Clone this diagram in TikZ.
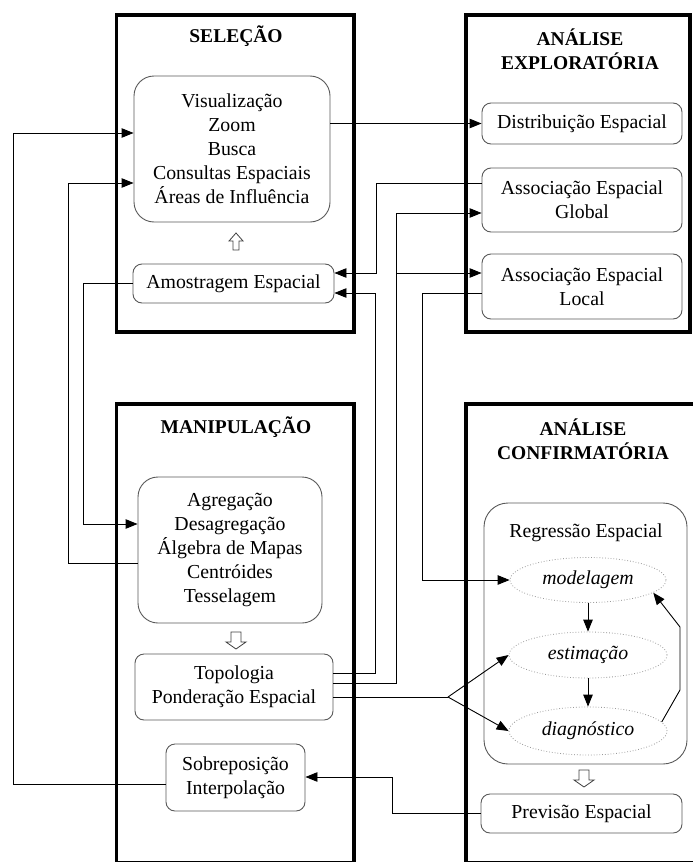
\documentclass[tikz,border=0pt]{standalone}
\usepackage{fontspec}
\setmainfont{Liberation Serif}
\usetikzlibrary{arrows.meta,shapes.geometric,calc}
\begin{document}
\begin{tikzpicture}[x=1pt,y=-1pt,
 frame/.style={line width=3.6pt},
 box/.style={draw=black!65, line width=0.9pt, rounded corners=9pt, align=center, inner sep=0pt, font=\fontsize{19.8}{24}\selectfont},
 bigbox/.style={box, rounded corners=20pt},
 ttl/.style={align=center, inner sep=0pt, font=\bfseries\fontsize{19.5}{23.5}\selectfont},
 ell/.style={ellipse, draw=black!40, dotted, line width=0.8pt, inner sep=0pt, font=\itshape\fontsize{19.8}{24}\selectfont},
 conn/.style={line width=0.9pt, -{Triangle[length=12pt,width=9.5pt]}},
 plain/.style={line width=0.9pt},
 hollow/.style={draw=black!75, line width=0.8pt, fill=white},
 hdown/.pic={\draw[hollow] (-5,0) -- (5,0) -- (5,10) -- (10,10) -- (0,17) -- (-10,10) -- (-5,10) -- cycle;},
 hup/.pic={\draw[hollow] (0,0) -- (7,8) -- (3,8) -- (3,17) -- (-3,17) -- (-3,8) -- (-7,8) -- cycle;}
]
\useasboundingbox (0,0) rectangle (693,862);
% frames
\draw[frame] (116.5,15) rectangle (354,332);
\draw[frame] (466,15) rectangle (690,332);
\draw[frame] (116.5,404) rectangle (354,862.5);
\draw[frame] (466,404) rectangle (702,862.5);
% titles
\node[ttl] (tsel) at (236,36) {SELEÇÃO};
\node[ttl] (texp) at (580,49) {ANÁLISE\\EXPLORATÓRIA};
\node[ttl] (tman) at (236,427) {MANIPULAÇÃO};
\node[ttl] (tconf) at (583,439) {ANÁLISE\\CONFIRMATÓRIA};
% selecao
\node[bigbox, minimum width=196pt, minimum height=146pt] (vis) at (232,149) {Visualização\\Zoom\\Busca\\Consultas Espaciais\\Áreas de Influência};
\node[box, minimum width=201pt, minimum height=39pt] (amo) at (233.5,283.5) {Amostragem Espacial};
\pic at (236,233) {hup};
% exploratoria
\node[box, minimum width=200pt, minimum height=41pt] (dist) at (582,123.5) {Distribuição Espacial};
\node[box, minimum width=200pt, minimum height=64pt] (glob) at (582,200) {Associação Espacial\\Global};
\node[box, minimum width=200pt, minimum height=65pt] (loc) at (582,286.5) {Associação Espacial\\Local};
% manipulacao
\node[bigbox, minimum width=184pt, minimum height=146pt] (agr) at (230,550) {Agregação\\Desagregação\\Álgebra de Mapas\\Centróides\\Tesselagem};
\pic at (236,632) {hdown};
\node[box, minimum width=198pt, minimum height=66pt] (topo) at (234,687) {Topologia\\Ponderação Espacial};
\node[box, minimum width=139pt, minimum height=67pt] (sob) at (235.5,777.5) {Sobreposição\\Interpolação};
% confirmatoria
\node[box, rounded corners=24pt, minimum width=203pt, minimum height=261pt] (reg) at (585.5,633.5) {};
\node[font=\fontsize{19.8}{24}\selectfont, inner sep=0pt] (regt) at (586,533) {Regressão Espacial};
\node[ell, minimum width=156pt, minimum height=45pt] (mod) at (588,580) {modelagem};
\node[ell, minimum width=158pt, minimum height=46pt] (est) at (588,655) {estimação};
\node[ell, minimum width=158pt, minimum height=48pt] (diag) at (588,731) {diagnóstico};
\pic at (584,770) {hdown};
\node[box, minimum width=201pt, minimum height=39pt] (prev) at (581.5,813.5) {Previsão Espacial};
% connectors
\draw[conn] (sob.west |- 0,784) -| (13,133) -- (vis.west |- 0,133);
\draw[conn] (agr.west |- 0,563) -| (68,183) -- (vis.west |- 0,183);
\draw[conn] (amo.west) -| (83,524) -- (agr.west |- 0,524);
\draw[conn] (vis.east |- dist.west) -- (dist.west);
\draw[conn] (glob.west |- 0,183) -| (376,273) -- (amo.east |- 0,273);
\draw[conn] (topo.east |- 0,673) -| (375,293) -- (amo.east |- 0,293);
\draw[conn] (topo.east |- 0,683) -| (396,213) -- (glob.west |- 0,213);
\coordinate (br) at (396,273);
\draw[conn] (br) -- (loc.west |- 0,273);
\draw[conn] (loc.west |- 0,293) -| (422,580) -- (mod.west);
\coordinate (fork) at (448,697);
\draw[plain] (topo.east |- 0,697) -- (fork);
\draw[conn] (fork) -- (est.west);
\draw[conn] (fork) -- (diag.west);
\draw[conn] (mod.south) -- (est.north);
\draw[conn] (est.south) -- (diag.north);
\draw[conn] (diag.7) -- (680,690) -- (680,627) -- (mod.-11);
\draw[conn] (prev.west) -| (392,777) -- (sob.east |- 0,777);
\end{tikzpicture}
\end{document}
